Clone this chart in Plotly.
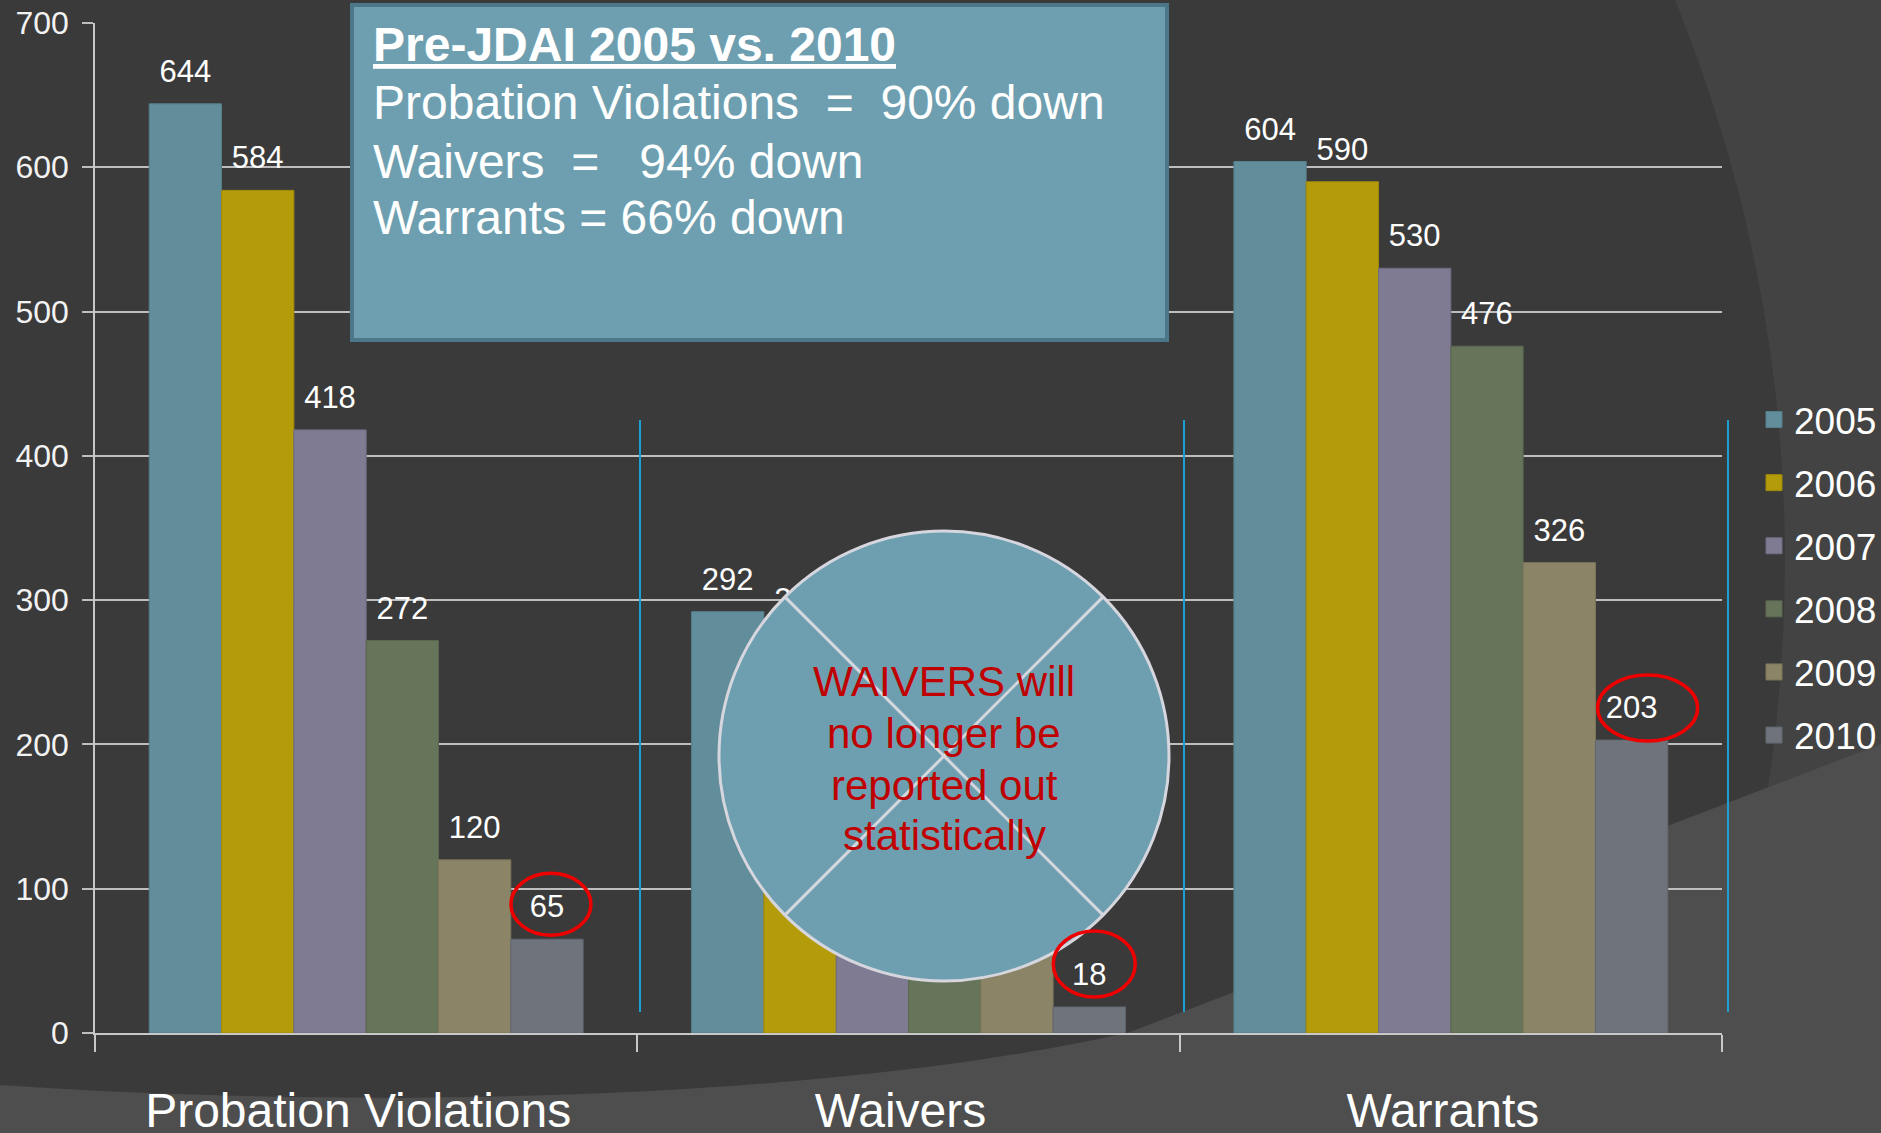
import plotly.graph_objects as go

# ---------------- data ----------------
categories = ["Probation Violations", "Waivers", "Warrants"]
years = ["2005", "2006", "2007", "2008", "2009", "2010"]
v2005 = [644, 292, 604]
v2006 = [584, 278, 590]
v2007 = [418, 200, 530]
v2008 = [272, 140, 476]
v2009 = [120, 90, 326]
v2010 = [65, 18, 203]
y_ticks = [0, 100, 200, 300, 400, 500, 600, 700]

box_title = "Pre-JDAI 2005 vs. 2010"
box_lines = ["Probation Violations  =  90% down",
             "Waivers  =   94% down",
             "Warrants = 66% down"]
circle_lines = ["WAIVERS will", "no longer be", "reported out", "statistically"]

series = [v2005, v2006, v2007, v2008, v2009, v2010]
colors = ["#628d9b", "#b39b0a", "#7e7b92", "#66745a", "#8b8466", "#6f747c"]
edge = ["#557f8c", "#a08a08", "#706d84", "#5a684f", "#7d765a", "#636870"]

# ---------------- layout geometry ----------------
W, H = 1881, 1133
ML, MR, MT, MB = 95, 159, 23, 100
PW, PH = W - ML - MR, H - MT - MB
BARGAP = 0.2
FONT = "Liberation Sans, Arial, sans-serif"


def px(x):
    return (x - ML) / PW


def py(y):
    return (H - MB - y) / PH


fig = go.Figure()

for name, vals, c, e in zip(years, series, colors, edge):
    fig.add_trace(go.Bar(
        name=name, x=categories, y=vals, marker=dict(color=c, line=dict(color=e, width=1)),
        showlegend=False, hoverinfo="x+y+name"))

for name, vals in zip(years, series):
    fig.add_trace(go.Scatter(
        x=categories, y=vals, mode="markers+text", text=[str(v) for v in vals],
        textposition="top center", textfont=dict(family=FONT, size=31, color="#ffffff"),
        marker=dict(size=21, opacity=0), showlegend=False, hoverinfo="skip"))

# legend entries (on a hidden axis so they do not affect grouping)
for name, c, e in zip(years, colors, edge):
    fig.add_trace(go.Scatter(
        x=[None], y=[None], mode="markers", name=name, legendgroup=name,
        marker=dict(symbol="square", size=16, color=c, line=dict(color=e, width=1)),
        xaxis="x2", yaxis="y2", showlegend=True))

shapes = []
# slide background decorations
shapes.append(dict(type="path", xref="paper", yref="paper", layer="below",
                   path="M %f,%f Q %f,%f %f,%f L %f,%f L %f,%f L %f,%f Z" % (
                       px(1675), py(0), px(1845), py(420), px(1752), py(880),
                       px(1712), py(1133), px(1881), py(1133), px(1881), py(0)),
                   fillcolor="#434343", line=dict(width=0)))
shapes.append(dict(type="path", xref="paper", yref="paper", layer="below",
                   path="M %f,%f C %f,%f %f,%f %f,%f L %f,%f L %f,%f L %f,%f Z" % (
                       px(0), py(1085), px(450), py(1115), px(880), py(1090),
                       px(1130), py(1032), px(1881), py(744), px(1881), py(1133),
                       px(0), py(1133)),
                   fillcolor="#4e4e4e", line=dict(width=0)))
# cyan vertical separators
for xv in [640, 1184, 1728]:
    shapes.append(dict(type="line", xref="paper", yref="paper", layer="above",
                       x0=px(xv), x1=px(xv), y0=py(420), y1=py(1012),
                       line=dict(color="#1e9fd2", width=2)))
# summary box
shapes.append(dict(type="rect", xref="paper", yref="paper", layer="above",
                   x0=px(352), x1=px(1167), y0=py(5), y1=py(340),
                   fillcolor="#6e9fb0", line=dict(color="#4b7788", width=4)))
# waivers circle with cross
cx, cy, r = 944, 756, 225
shapes.append(dict(type="circle", xref="paper", yref="paper", layer="above",
                   x0=px(cx - r), x1=px(cx + r), y0=py(cy + r), y1=py(cy - r),
                   fillcolor="#6e9fb0", line=dict(color="#d6d6de", width=3)))
d = r * 0.7071
for sgn in (1, -1):
    shapes.append(dict(type="line", xref="paper", yref="paper", layer="above",
                       x0=px(cx - d), y0=py(cy - sgn * d), x1=px(cx + d), y1=py(cy + sgn * d),
                       line=dict(color="#d6d6de", width=3)))

# red ellipses around the 2010 values
ncat, nser = len(categories), len(series)
offs = [(4, 35, 40, 31), (5, 43, 41, 33), (16, 32, 50, 33)]
for ci, val in enumerate(v2010):
    xpos = ci - (1 - BARGAP) / 2 + (1 - BARGAP) * (nser - 0.5) / nser
    dx, dy, rx, ry = offs[ci]
    shapes.append(dict(type="circle", xref="x", yref="y", layer="above",
                       xsizemode="pixel", ysizemode="pixel", xanchor=xpos, yanchor=val,
                       x0=dx - rx, x1=dx + rx, y0=dy - ry, y1=dy + ry,
                       line=dict(color="#ee0000", width=3.5)))

nb = "\u00a0"
annotations = []
box_texts = ["<b><u>%s</u></b>" % box_title] + [l.replace(" ", nb) for l in box_lines]
box_centers = [44, 103, 161, 218]
for t, yc in zip(box_texts, box_centers):
    annotations.append(dict(xref="paper", yref="paper", x=px(371), y=py(yc),
                            xanchor="left", yanchor="middle", text=t, align="left",
                            showarrow=False, font=dict(family=FONT, size=48, color="#ffffff")))
circle_centers = [681, 733, 785, 835]
for t, yc in zip(circle_lines, circle_centers):
    annotations.append(dict(xref="paper", yref="paper", x=px(cx), y=py(yc),
                            xanchor="center", yanchor="middle", text=t, align="center",
                            showarrow=False, font=dict(family=FONT, size=42, color="#c00000")))

fig.update_layout(
    width=W, height=H,
    margin=dict(l=ML, r=MR, t=MT, b=MB, autoexpand=False),
    paper_bgcolor="#3a3a3a", plot_bgcolor="rgba(0,0,0,0)",
    barmode="group", bargap=BARGAP, bargroupgap=0,
    scattermode="group", scattergap=BARGAP,
    font=dict(family=FONT, color="#ffffff"),
    shapes=shapes, annotations=annotations,
    showlegend=True,
    legend=dict(x=px(1754), y=py(389), xanchor="left", yanchor="top",
                font=dict(family=FONT, size=37, color="#ffffff"),
                bgcolor="rgba(0,0,0,0)", traceorder="grouped", tracegroupgap=12,
                itemclick=False),
    xaxis=dict(type="category", categoryorder="array", categoryarray=categories,
               range=[-0.5, 2.5], showgrid=False, zeroline=False,
               showline=True, linecolor="#c8c8c8", linewidth=2,
               ticks="outside", tickson="boundaries", ticklen=17, tickcolor="#c8c8c8",
               tickwidth=1.5, ticklabelstandoff=34, ticklabelshift=-8, automargin=False,
               tickfont=dict(family=FONT, size=48, color="#ffffff")),
    yaxis=dict(range=[0, 700], tickvals=y_ticks, showgrid=True, gridcolor="#bebebe",
               gridwidth=1.5, zeroline=False, showline=True, linecolor="#c8c8c8",
               linewidth=1.5, ticks="outside", ticklen=11, tickcolor="#bebebe",
               tickwidth=1.5, ticklabelstandoff=7, automargin=False,
               tickfont=dict(family=FONT, size=32, color="#f2f2f2")),
    xaxis2=dict(domain=[0, 0.01], visible=False, anchor="y2"),
    yaxis2=dict(domain=[0, 0.01], visible=False, anchor="x2"),
)

fig.write_html("out.html",
               config={"displayModeBar": False},
               post_script="document.body.style.margin='0px';"
                           "document.body.style.background='#3a3a3a';"
                           "document.body.style.overflow='hidden';")
